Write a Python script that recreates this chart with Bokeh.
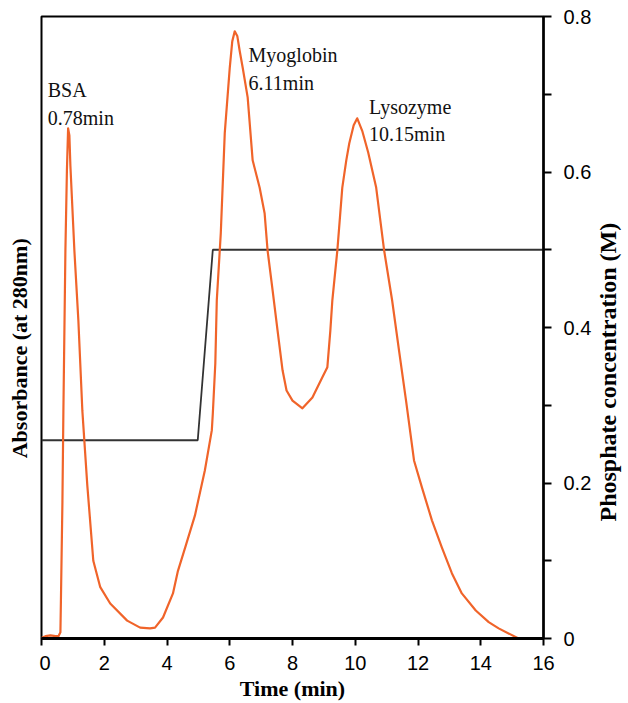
import math
from bokeh.plotting import figure
from bokeh.layouts import row
from bokeh.models import LinearAxis, FixedTicker, Range1d
from bokeh.core.properties import value
from bokeh.embed import file_html
from bokeh.resources import INLINE

# Absorbance trace (time in min, absorbance on the 0-0.8 scale)
time_min = [0.00, 0.127, 0.286, 0.444, 0.540, 0.603, 0.619, 0.667, 0.698, 0.762, 0.810, 0.848,
            0.889, 0.921, 1.048, 1.175, 1.302, 1.460, 1.651, 1.873, 2.190, 2.730, 3.143, 3.460,
            3.619, 3.873, 4.190, 4.349, 4.603, 4.889, 5.206, 5.429, 5.460, 5.540, 5.587, 5.714,
            5.841, 6.000, 6.080, 6.159, 6.240, 6.320, 6.413, 6.571, 6.730, 6.952, 7.111, 7.206,
            7.365, 7.524, 7.683, 7.810, 8.000, 8.317, 8.635, 8.952, 9.111, 9.206, 9.270, 9.429,
            9.587, 9.714, 9.810, 9.950, 10.063, 10.222, 10.413, 10.667, 10.921, 11.175, 11.397,
            11.619, 11.873, 12.127, 12.444, 12.762, 13.079, 13.397, 13.841, 14.254, 14.571, 15.206]
absorbance = [0.001, 0.003, 0.004, 0.003, 0.003, 0.008, 0.049, 0.176, 0.293, 0.499, 0.602, 0.656,
              0.647, 0.608, 0.499, 0.409, 0.293, 0.197, 0.100, 0.066, 0.045, 0.023, 0.014, 0.013,
              0.014, 0.027, 0.058, 0.087, 0.120, 0.158, 0.216, 0.268, 0.289, 0.354, 0.435, 0.521,
              0.650, 0.734, 0.768, 0.781, 0.775, 0.755, 0.734, 0.696, 0.615, 0.580, 0.547, 0.499,
              0.448, 0.396, 0.345, 0.319, 0.306, 0.296, 0.310, 0.336, 0.349, 0.396, 0.435, 0.499,
              0.580, 0.615, 0.637, 0.660, 0.669, 0.653, 0.625, 0.580, 0.499, 0.435, 0.370,
              0.306, 0.229, 0.194, 0.152, 0.117, 0.084, 0.058, 0.036, 0.021, 0.013, 0.000]

# Phosphate gradient (step)
grad_time = [0.0, 4.98, 5.46, 16.0]
grad_conc = [0.255, 0.255, 0.5, 0.5]

# Peak annotations
peak_names = ["BSA", "Myoglobin", "Lysozyme"]
peak_times = ["0.78min", "6.11min", "10.15min"]
label_x = [0.2, 6.6, 10.44]
label_y = [0.705, 0.750, 0.683]
label_y2 = [0.670, 0.715, 0.649]

x_ticks = [0, 2, 4, 6, 8, 10, 12, 14, 16]
y_ticks = [0, 0.2, 0.4, 0.6, 0.8]
y_minor = [0.1, 0.3, 0.5, 0.7]
y_tick_labels = ["0", "0.2", "0.4", "0.6", "0.8"]

x_title = "Time (min)"
left_title = "Absorbance (at 280nm)"
right_title = "Phosphate concentration (M)"

SERIF = "Liberation Serif"
SANS = "Liberation Sans"
H = 703
LEFT_W = 39
RIGHT_W = 34
MAIN_W = 628 - LEFT_W - RIGHT_W


def side_panel(width):
    f = figure(width=width, height=H, output_backend="svg", toolbar_location=None,
               x_range=Range1d(0, width), y_range=Range1d(0, H),
               x_axis_location=None, y_axis_location=None,
               min_border_left=0, min_border_right=0, min_border_top=0, min_border_bottom=0)
    f.outline_line_color = None
    f.xgrid.visible = False
    f.ygrid.visible = False
    f.background_fill_color = "white"
    f.border_fill_color = "white"
    return f


# left title panel
pl = side_panel(LEFT_W)
pl.text(x=[19], y=[H - 375], text=[left_title], angle=math.pi / 2,
        text_align="center", text_baseline="middle", text_font=value(SERIF),
        text_font_style="bold", text_font_size="22px", text_color="black")

# right title panel
pr = side_panel(RIGHT_W)
pr.text(x=[13], y=[H - 402], text=[right_title], angle=math.pi / 2,
        text_align="center", text_baseline="middle", text_font=value(SERIF),
        text_font_style="bold", text_font_size="24px", text_color="black")

# main chart
p = figure(width=MAIN_W, height=H, output_backend="svg", toolbar_location=None,
           x_range=Range1d(0, 16), y_range=Range1d(0, 0.8), y_axis_location=None,
           min_border_left=2, min_border_right=MAIN_W - 2 - 503,
           min_border_top=16, min_border_bottom=65)
p.background_fill_color = "white"
p.border_fill_color = "white"
p.outline_line_color = "black"
p.outline_line_width = 2
p.xgrid.visible = False
p.ygrid.visible = False

# bottom axis
xa = p.xaxis[0]
xa.ticker = FixedTicker(ticks=x_ticks)
xa.axis_line_width = 3
xa.axis_line_color = "black"
xa.major_tick_out = 7
xa.major_tick_in = 0
xa.minor_tick_out = 0
xa.minor_tick_in = 0
xa.major_tick_line_width = 2
xa.major_tick_line_color = "black"
xa.major_label_text_font = SANS
xa.major_label_text_font_size = "20px"
xa.major_label_text_color = "black"
xa.major_label_standoff = 10
xa.axis_label = x_title
xa.axis_label_text_font = SERIF
xa.axis_label_text_font_style = "bold"
xa.axis_label_text_font_size = "22px"
xa.axis_label_text_color = "black"
xa.axis_label_standoff = 3

# right axis
ra = LinearAxis(ticker=FixedTicker(ticks=y_ticks, minor_ticks=y_minor))
ra.major_label_overrides = {t: s for t, s in zip(y_ticks, y_tick_labels)}
ra.axis_line_width = 2.5
ra.axis_line_color = "black"
ra.major_tick_out = 8
ra.major_tick_in = 0
ra.minor_tick_out = 8
ra.minor_tick_in = 0
ra.major_tick_line_width = 2
ra.minor_tick_line_width = 2
ra.major_tick_line_color = "black"
ra.minor_tick_line_color = "black"
ra.major_label_text_font = SANS
ra.major_label_text_font_size = "20px"
ra.major_label_text_color = "black"
ra.major_label_standoff = 12
p.add_layout(ra, "right")

p.line(grad_time, grad_conc, line_color="#333333", line_width=1.8)
p.line(time_min, absorbance, line_color="#F0642A", line_width=2.2, line_join="round")

p.text(x=label_x, y=label_y, text=peak_names, text_font=value(SERIF),
       text_font_size="20px", text_color="#111111", text_baseline="alphabetic", text_align="left")
p.text(x=label_x, y=label_y2, text=peak_times, text_font=value(SERIF),
       text_font_size="20px", text_color="#111111", text_baseline="alphabetic", text_align="left")

layout = row(pl, p, pr, spacing=0)
open("out.html", "w").write(file_html(layout, INLINE))
